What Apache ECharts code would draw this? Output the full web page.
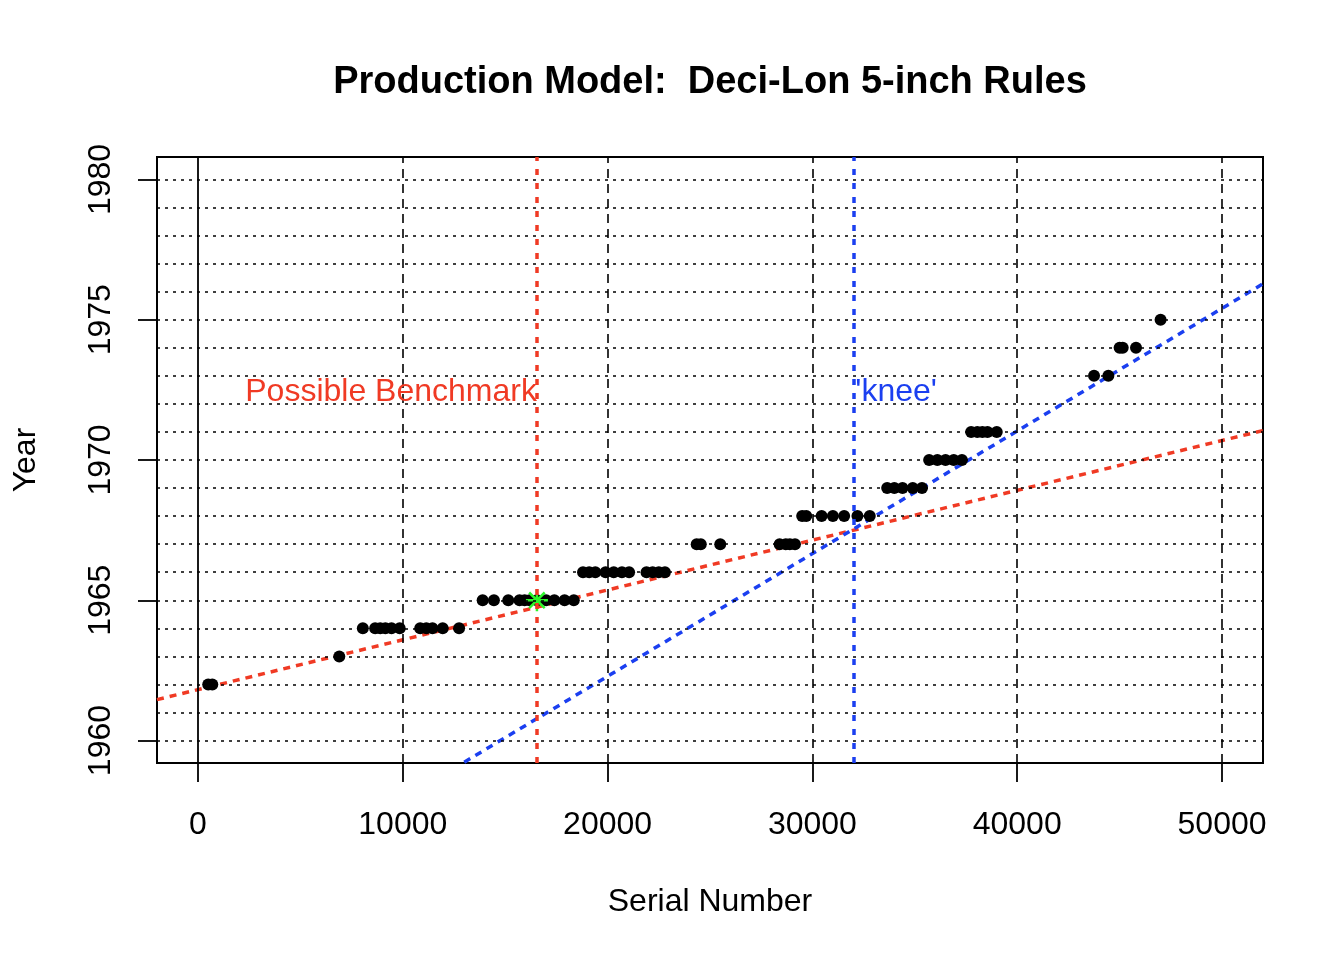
<!DOCTYPE html>
<html>
<head>
<meta charset="UTF-8">
<title>Production Model: Deci-Lon 5-inch Rules</title>
<script src="https://cdn.jsdelivr.net/npm/echarts@6.0.0/dist/echarts.min.js"></script>
<style>
html, body { margin: 0; padding: 0; background: #fff; }
#container { width: 1344px; height: 960px; }
</style>
</head>
<body>
<div id="container"></div>
<script>
// observed rules: serial number vs year of manufacture
var serials = [
	500, 700,
	6900,
	8050, 8650, 8900, 9150, 9450, 9850, 10850, 11150, 11450, 11950, 12750,
	13900, 14450, 15150, 15700, 15950, 16200, 16550, 17000, 17400, 17900, 18350,
	18800, 19100, 19400, 19900, 20300, 20700, 21050, 21900, 22200, 22500, 22800,
	24350, 24550, 25500, 28400, 28700, 28900, 29150,
	29500, 29700, 30450, 31000, 31550, 32200, 32800,
	33650, 34000, 34400, 34900, 35350,
	35700, 36100, 36500, 36900, 37300,
	37750, 38050, 38300, 38550, 39000,
	43750, 44450,
	45000, 45150, 45800,
	47000
];
var years = [
	1962, 1962,
	1963,
	1964, 1964, 1964, 1964, 1964, 1964, 1964, 1964, 1964, 1964, 1964,
	1965, 1965, 1965, 1965, 1965, 1965, 1965, 1965, 1965, 1965, 1965,
	1966, 1966, 1966, 1966, 1966, 1966, 1966, 1966, 1966, 1966, 1966,
	1967, 1967, 1967, 1967, 1967, 1967, 1967,
	1968, 1968, 1968, 1968, 1968, 1968, 1968,
	1969, 1969, 1969, 1969, 1969,
	1970, 1970, 1970, 1970, 1970,
	1971, 1971, 1971, 1971, 1971,
	1973, 1973,
	1974, 1974, 1974,
	1975
];

var benchmark = [16550, 1965];
var knee = 32000;
var earlyFit = [[-2000, 1961.46], [52000, 1971.05]];
var lateFit = [[13000, 1959.23], [52000, 1976.28]];

var xTicks = [0, 10000, 20000, 30000, 40000, 50000];
var yTicks = [1960, 1965, 1970, 1975, 1980];
var yGrid = [1960, 1961, 1962, 1963, 1964, 1965, 1966, 1967, 1968, 1969, 1970,
	1971, 1972, 1973, 1974, 1975, 1976, 1977, 1978, 1979, 1980];
var labelYear = 1972.4;

var RED = '#F03A24';
var BLUE = '#1B3FF0';
var GREEN = '#2CF52C';
var FONT = '"Liberation Sans", Arial, Helvetica, sans-serif';

var points = serials.map(function (s, i) { return [s, years[i]]; });

var gridLines = [];
yGrid.forEach(function (y) {
	gridLines.push({ yAxis: y, lineStyle: { color: '#000', width: 1.6, type: [3, 5] } });
});
xTicks.forEach(function (x) {
	gridLines.push({
		xAxis: x,
		lineStyle: x === 0
			? { color: '#000', width: 1.8, type: 'solid' }
			: { color: '#000', width: 1.6, type: [9, 6] }
	});
});
gridLines.push({ xAxis: benchmark[0], lineStyle: { color: RED, width: 3.5, type: [6, 8] } });
gridLines.push({ xAxis: knee, lineStyle: { color: BLUE, width: 3.5, type: [6, 8] } });

function plain(v) { return String(v); }

var dom = document.getElementById('container');
var myChart = echarts.init(dom);

var option = {
	backgroundColor: '#fff',
	animation: false,
	textStyle: { fontFamily: FONT },
	title: {
		text: 'Production Model:  Deci-Lon 5-inch Rules',
		left: 710,
		top: 64,
		padding: 0,
		textAlign: 'center',
		textStyle: { fontFamily: FONT, fontSize: 38, fontWeight: 'bold', color: '#000' }
	},
	grid: {
		left: 157, top: 157, right: 81, bottom: 197,
		show: true, borderColor: '#000', borderWidth: 2, backgroundColor: 'transparent'
	},
	xAxis: {
		type: 'value',
		min: -2000,
		max: 52000,
		name: 'Serial Number',
		nameLocation: 'middle',
		nameGap: 123,
		nameTextStyle: { fontFamily: FONT, fontSize: 32, color: '#000' },
		axisLine: { show: false, onZero: false },
		splitLine: { show: false },
		axisTick: { show: true, inside: false, customValues: xTicks, length: 19, lineStyle: { color: '#000', width: 1.8 } },
		axisLabel: { customValues: xTicks, formatter: plain, margin: 46, fontFamily: FONT, fontSize: 32, color: '#000' }
	},
	yAxis: {
		type: 'value',
		min: 1959.2,
		max: 1980.8,
		name: 'Year',
		nameLocation: 'middle',
		nameRotate: 90,
		nameGap: 115,
		nameTextStyle: { fontFamily: FONT, fontSize: 32, color: '#000' },
		axisLine: { show: false, onZero: false },
		splitLine: { show: false },
		axisTick: { show: true, inside: false, customValues: yTicks, length: 19, lineStyle: { color: '#000', width: 1.8 } },
		axisLabel: { customValues: yTicks, formatter: plain, rotate: 90, margin: 40, fontFamily: FONT, fontSize: 32, color: '#000' }
	},
	series: [
		{
			name: 'grid',
			type: 'line',
			data: [],
			z: 1,
			silent: true,
			markLine: { silent: true, symbol: 'none', label: { show: false }, animation: false, data: gridLines }
		},
		{
			name: 'early fit',
			type: 'line',
			data: earlyFit,
			z: 2,
			symbol: 'none',
			lineStyle: { color: RED, width: 3.5, type: [7, 6] }
		},
		{
			name: 'late fit',
			type: 'line',
			data: lateFit,
			z: 2,
			symbol: 'none',
			lineStyle: { color: BLUE, width: 3.5, type: [7, 6] }
		},
		{
			name: 'rules',
			type: 'scatter',
			data: points,
			z: 3,
			symbol: 'circle',
			symbolSize: 12,
			itemStyle: { color: '#000', opacity: 1 }
		},
		{
			name: 'benchmark',
			type: 'scatter',
			data: [benchmark],
			z: 4,
			symbol: 'path://M0,-10L0,10M-10,0L10,0M-7.07,-7.07L7.07,7.07M-7.07,7.07L7.07,-7.07',
			symbolSize: 22,
			itemStyle: { color: 'transparent', borderColor: GREEN, borderWidth: 2.5, opacity: 1 }
		},
		{
			name: 'notes',
			type: 'scatter',
			z: 5,
			symbolSize: 0,
			silent: true,
			itemStyle: { opacity: 1 },
			data: [
				{ value: [benchmark[0], labelYear], label: { formatter: 'Possible Benchmark', position: 'left', distance: 0, color: RED } },
				{ value: [knee, labelYear], label: { formatter: "'knee'", position: 'right', distance: 2, color: BLUE } }
			],
			label: { show: true, fontFamily: FONT, fontSize: 32 }
		}
	]
};

myChart.setOption(option, true);
</script>
</body>
</html>
